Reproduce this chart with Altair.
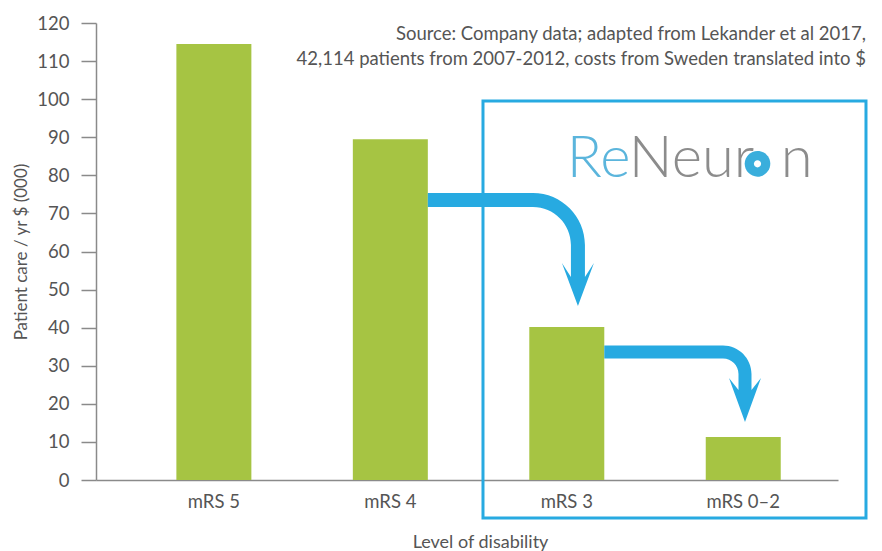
import altair as alt
import pandas as pd

# ---- data ----
categories = ["mRS 5", "mRS 4", "mRS 3", "mRS 0–2"]
costs = [114.5, 89.5, 40.2, 11.3]
y_ticks = [0, 10, 20, 30, 40, 50, 60, 70, 80, 90, 100, 110, 120]

source_lines = [
    "Source: Company data; adapted from Lekander et al 2017,",
    "42,114 patients from 2007-2012, costs from Sweden translated into $",
]

arrow1_from = ["mRS 4"]
arrow1_level = [73.5]
arrow2_from = ["mRS 3"]
arrow2_level = [33.6]
box_anchor_cat = ["mRS 3"]
box_anchor_level = [40]
logo_anchor_cat = ["mRS 3"]
logo_anchor_level = [79.6]

GREEN = "#A6C443"
BLUE = "#27AAE1"
TEXT = "#555555"
AXIS = "#8A8A8A"
FONT = "Lato"

bars_df = pd.DataFrame({"cat": categories, "cost": costs})

xscale = alt.Scale(domain=categories, paddingInner=0.575, paddingOuter=0.39, align=0.584)
yscale = alt.Scale(domain=[0, 120], nice=False)

x_axis = alt.Axis(
    title="Level of disability",
    labelAngle=0,
    ticks=False,
    labelPadding=12,
    labelFontSize=18.5,
    labelFont=FONT,
    labelColor=TEXT,
    domainColor=AXIS,
    domainWidth=1.5,
    titleFontSize=18,
    titleFont=FONT,
    titleFontWeight="normal",
    titleColor=TEXT,
    titlePadding=23,
    titleX=384,
    titleAlign="center",
)
y_axis = alt.Axis(
    title="Patient care / yr $ (000)",
    values=y_ticks,
    labelOverlap=False,
    grid=False,
    tickSize=15,
    tickColor=AXIS,
    tickWidth=1.5,
    domainColor=AXIS,
    domainWidth=1.5,
    labelPadding=12,
    labelFontSize=18.5,
    labelFont=FONT,
    labelColor=TEXT,
    titleFontSize=17,
    titleFont=FONT,
    titleFontWeight="normal",
    titleColor=TEXT,
    titlePadding=6,
)


def xy():
    return dict(
        x=alt.X("cat:N", scale=xscale, sort=categories, axis=x_axis),
        y=alt.Y("cost:Q", scale=yscale, axis=y_axis),
    )


bars = alt.Chart(bars_df).mark_bar(color=GREEN).encode(**xy())

# shapes (unit = 1px with size=4)
arrow1_path = (
    "M 37.5 -7 L 142.6 -7 C 171.3 -7 194.6 16.3 194.6 45 L 194.6 77 L 203.6 63 "
    "L 187.6 106 L 171.6 63 L 180.6 77 L 180.6 45 C 180.6 24 163.6 7 142.6 7 L 37.5 7 Z"
)
arrow2_path = (
    "M 37.5 -6.5 L 156.2 -6.5 C 171.9 -6.5 184.7 6.3 184.7 22 L 184.7 38 L 194.2 26 "
    "L 178.2 70 L 162.2 26 L 171.7 38 L 171.7 22 C 171.7 13.4 164.8 6.5 156.2 6.5 L 37.5 6.5 Z"
)
box_path = "M -83.8 -226.7 L 299.2 -226.7 L 299.2 190.3 L -83.8 190.3 Z"


def circle_path(cx, cy, r):
    k = r * 0.5523
    return (
        f"M {cx + r} {cy} C {cx + r} {cy + k} {cx + k} {cy + r} {cx} {cy + r} "
        f"C {cx - k} {cy + r} {cx - r} {cy + k} {cx - r} {cy} "
        f"C {cx - r} {cy - k} {cx - k} {cy - r} {cx} {cy - r} "
        f"C {cx + k} {cy - r} {cx + r} {cy - k} {cx + r} {cy} Z"
    )


logo_ring_path = circle_path(190.7, -13, 12.8)
logo_dot_path = circle_path(190.7, -13, 3.6)


def anno(cats, levels):
    return pd.DataFrame({"cat": cats, "cost": levels})


arrow1 = alt.Chart(anno(arrow1_from, arrow1_level)).mark_point(
    shape=arrow1_path, size=4, filled=True, fill=BLUE, strokeWidth=0, opacity=1
).encode(**xy())
arrow2 = alt.Chart(anno(arrow2_from, arrow2_level)).mark_point(
    shape=arrow2_path, size=4, filled=True, fill=BLUE, strokeWidth=0, opacity=1
).encode(**xy())
box = alt.Chart(anno(box_anchor_cat, box_anchor_level)).mark_point(
    shape=box_path, size=4, filled=False, stroke=BLUE, strokeWidth=3, opacity=1
).encode(**xy())

logo_df = anno(logo_anchor_cat, logo_anchor_level)
logo_re = alt.Chart(logo_df).mark_text(
    text="Re", align="left", baseline="alphabetic", dx=0, font=FONT, fontSize=58,
    fontWeight=300, color="#5BB5DC"
).encode(**xy())
logo_neur = alt.Chart(logo_df).mark_text(
    text="Neur", align="left", baseline="alphabetic", dx=62, font=FONT, fontSize=58,
    fontWeight=300, color="#8C8C8C"
).encode(**xy())
logo_o = alt.Chart(logo_df).mark_point(
    shape=logo_ring_path, size=4, filled=True, fill="#3AAEDC", strokeWidth=0, opacity=1
).encode(**xy())
logo_dot = alt.Chart(logo_df).mark_point(
    shape=logo_dot_path, size=4, filled=True, fill="white", strokeWidth=0, opacity=1
).encode(**xy())
logo_n = alt.Chart(logo_df).mark_text(
    text="n", align="left", baseline="alphabetic", dx=214, font=FONT, fontSize=58,
    fontWeight=300, color="#8C8C8C"
).encode(**xy())

chart = (
    alt.layer(box, bars, arrow1, arrow2, logo_re, logo_neur, logo_o, logo_dot, logo_n)
    .properties(
        width=742,
        height=457,
        autosize="none",
        padding={"left": 96, "top": 23, "right": 44, "bottom": 71},
        title=alt.TitleParams(
            text=source_lines,
            anchor="end",
            frame="group",
            fontSize=18.5,
            font=FONT,
            fontWeight="normal",
            color=TEXT,
            lineHeight=25,
            dx=28,
            dy=54,
            offset=0,
        ),
    )
    .configure_view(stroke=None)
    .configure_axis(labelOverlap=False)
)

chart.save("out.html", embed_options={"renderer": "svg", "actions": False})
